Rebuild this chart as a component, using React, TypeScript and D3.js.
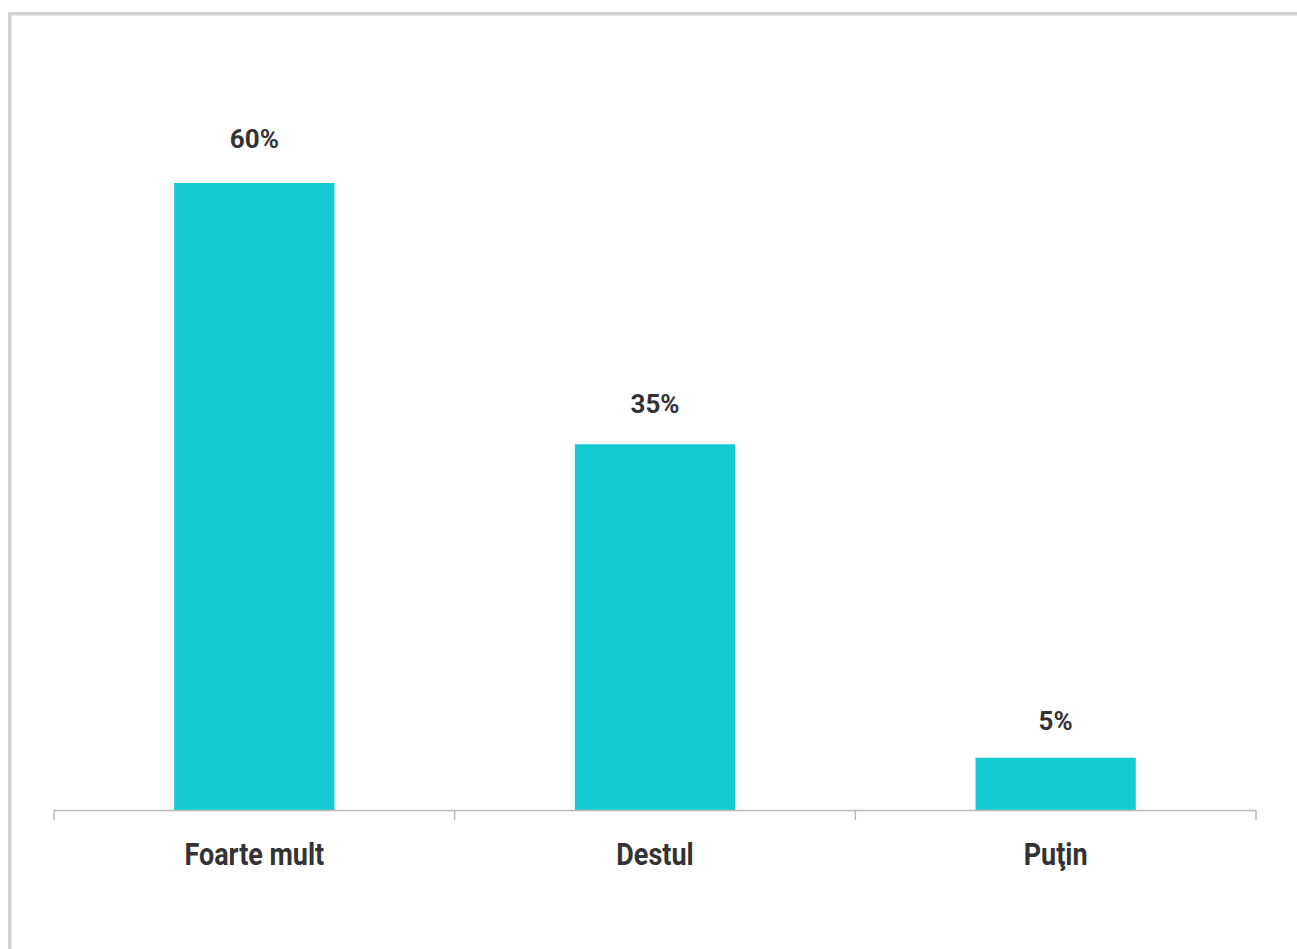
import React from "react";
import * as d3 from "d3";

const categories = ["Foarte mult", "Destul", "Puţin"];
const values = [60, 35, 5];
const valueLabels = ["60%", "35%", "5%"];

const W = 1297;
const H = 949;
const plot = { left: 54, right: 1256, bottom: 810 };

export default function App() {
  const x = d3
    .scaleBand<string>()
    .domain(categories)
    .range([plot.left, plot.right])
    .paddingInner(0.6)
    .paddingOuter(0.3);
  const y = d3.scaleLinear().domain([0, 60]).range([plot.bottom, 183]);
  const tickXs = [0, 1, 2, 3].map((i) => plot.left + i * ((plot.right - plot.left) / categories.length));

  return (
    <div style={{ position: "absolute", left: 0, top: 0, width: W, height: H, background: "#fff" }}>
      <svg width={W} height={H} style={{ display: "block" }}>
        <rect x={0} y={0} width={W} height={H} fill="#fff" />
        {/* frame */}
        <rect x={8} y={12} width={W - 8} height={3.5} fill="#d2d2d2" />
        <rect x={8} y={12} width={3.5} height={H - 12} fill="#d2d2d2" />
        {/* bars */}
        {categories.map((c, i) => (
          <rect
            key={c}
            x={x(c)}
            y={y(values[i])}
            width={x.bandwidth()}
            height={plot.bottom - y(values[i])}
            fill="#14CAD3"
          />
        ))}
        {/* axis */}
        <line x1={plot.left} x2={plot.right} y1={plot.bottom + 0.5} y2={plot.bottom + 0.5} stroke="#b8b8b8" strokeWidth={1.5} />
        {tickXs.map((tx, i) => (
          <line key={i} x1={tx} x2={tx} y1={plot.bottom} y2={plot.bottom + 10} stroke="#b8b8b8" strokeWidth={1.5} />
        ))}
        {/* value labels */}
        {categories.map((c, i) => (
          <text
            key={c}
            x={(x(c) as number) + x.bandwidth() / 2}
            y={y(values[i]) - (27 + 0.13 * values[i])}
            textAnchor="middle"
            fontFamily="Roboto, 'Open Sans', sans-serif"
            fontWeight={700}
            fontSize={26}
            fill="#333"
          >
            {valueLabels[i]}
          </text>
        ))}
        {/* category labels */}
        {categories.map((c) => {
          const cx = (x(c) as number) + x.bandwidth() / 2;
          return (
            <text
              key={c}
              transform={`translate(${cx},865) scale(0.87,1)`}
              textAnchor="middle"
              fontFamily="Roboto, sans-serif"
              fontWeight={700}
              fontSize={31}
              fill="#333"
            >
              {c}
            </text>
          );
        })}
      </svg>
    </div>
  );
}
